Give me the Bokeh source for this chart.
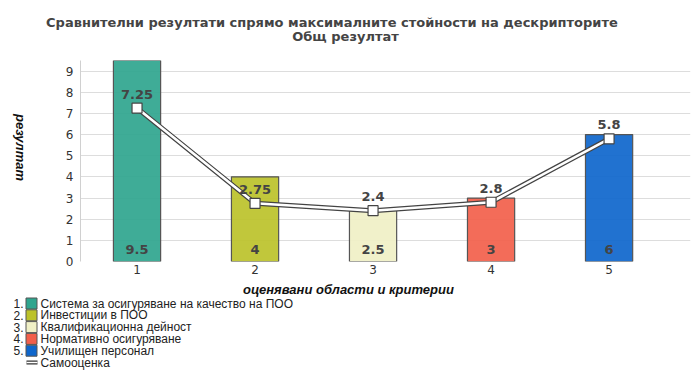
import math
from bokeh.plotting import figure
from bokeh.models import ColumnDataSource, LabelSet, Range1d, FixedTicker
from bokeh.layouts import column, row
from bokeh.core.properties import value
from bokeh.embed import file_html
from bokeh.resources import INLINE

# ---- data ----
categories = [1, 2, 3, 4, 5]
max_values = [9.5, 4, 2.5, 3, 6]
self_scores = [7.25, 2.75, 2.4, 2.8, 5.8]
bar_colors = ["#2fa58e", "#bcc22a", "#f0f0c6", "#f25f4b", "#0e66cc"]
legend_names = [
    "Система за осигуряване на качество на ПОО",
    "Инвестиции в ПОО",
    "Квалификационна дейност",
    "Нормативно осигуряване",
    "Училищен персонал",
]
line_name = "Самооценка"
title_line1 = "Сравнителни  резултати  спрямо  максималните  стойности  на  дескрипторите"
title_line2 = "Общ резултат"
y_label = "резултат"
x_label = "оценявани области и критерии"
y_ticks = list(range(0, 10))

W = 692


def no_align(f):
    try:
        f.frame_align = False
    except Exception:
        pass
    return f


def blank(w, h):
    f = figure(width=w, height=h, output_backend="svg", toolbar_location=None,
               x_range=Range1d(0, w), y_range=Range1d(h, 0), min_border=0,
               x_axis_location=None, y_axis_location=None)
    f.grid.visible = False
    f.outline_line_color = None
    return no_align(f)


# ---- title strip (page y 0..50) ----
top = blank(W, 50)
top.text(x=[345, 345], y=[22, 36], text=[title_line1, title_line2], text_align="center",
         text_baseline="middle", text_font=value("DejaVu Sans"), text_font_style="bold",
         text_font_size="13px", text_color="#444444")

# ---- y label strip (page x 0..60, y 50..278) ----
H1 = 228
YW = 60
yl = blank(YW, H1)
yl.text(x=[20], y=[147 - 50], text=[y_label], angle=-math.pi / 2, text_align="center",
        text_baseline="middle", text_font=value("Liberation Sans"),
        text_font_style="bold italic", text_font_size="13px", text_color="#111111")

# ---- main chart (page x 60..692, y 50..278) ----
p = figure(width=W - YW, height=H1, output_backend="svg", toolbar_location=None,
           x_range=Range1d(0.521, 5.69), y_range=Range1d(0, 9.5),
           min_border_left=80 - YW, min_border_right=2, min_border_top=10,
           min_border_bottom=17)
no_align(p)
p.outline_line_color = None
p.background_fill_color = "white"
p.xgrid.grid_line_color = None
p.ygrid.grid_line_color = "#dddddd"
p.ygrid.ticker = FixedTicker(ticks=y_ticks)

p.yaxis.ticker = FixedTicker(ticks=y_ticks)
p.xaxis.ticker = FixedTicker(ticks=categories)
for ax in (p.xaxis, p.yaxis):
    ax.major_tick_line_color = None
    ax.minor_tick_line_color = None
    ax.major_tick_out = 0
    ax.major_tick_in = 0
    ax.minor_tick_out = 0
    ax.major_label_text_font = "DejaVu Sans"
    ax.major_label_text_font_size = "12px"
    ax.major_label_text_color = "#333333"
p.xaxis.axis_line_color = None
p.yaxis.axis_line_color = "#d0d0d0"
p.xaxis.major_label_standoff = 3
p.yaxis.major_label_standoff = 7

src = ColumnDataSource(dict(x=categories, top=max_values, color=bar_colors,
                            lbl=[str(v) for v in max_values]))
p.vbar(x="x", top="top", width=0.4, bottom=0, fill_color="color", fill_alpha=0.92,
       line_color="#555555", line_width=1.2, source=src)

lsrc = ColumnDataSource(dict(x=categories, y=self_scores, lbl=[str(v) for v in self_scores]))
p.line(x="x", y="y", source=lsrc, line_color="#444444", line_width=5)
p.line(x="x", y="y", source=lsrc, line_color="white", line_width=2.6)
p.scatter(x="x", y="y", source=lsrc, marker="square", size=10, fill_color="white",
          line_color="#444444", line_width=1.2)

p.add_layout(LabelSet(x="x", y=0, text="lbl", source=src, y_offset=12,
                      text_align="center", text_baseline="middle",
                      text_font=value("DejaVu Sans"), text_font_style="bold",
                      text_font_size="13px", text_color="#444444"))
p.add_layout(LabelSet(x="x", y="y", text="lbl", source=lsrc, y_offset=14,
                      text_align="center", text_baseline="middle",
                      text_font=value("DejaVu Sans"), text_font_style="bold",
                      text_font_size="13px", text_color="#444444"))

# ---- x label + legend (page y 278..376) ----
H2 = 98
lg = blank(W, H2)
lg.text(x=[348], y=[11], text=[x_label], text_align="center", text_baseline="middle",
        text_font=value("Liberation Sans"), text_font_style="bold italic",
        text_font_size="13px", text_color="#111111")
n = len(legend_names)
row_y = [25 + i * 11.8 for i in range(n + 1)]
nums = [f"{i + 1}." for i in range(n)]
lg.text(x=[23] * n, y=row_y[:n], text=nums, text_align="right", text_baseline="middle",
        text_font=value("Liberation Sans"), text_font_size="12px", text_color="#222222")
lg.rect(x=[31] * n, y=row_y[:n], width=11, height=11, fill_color=bar_colors,
        line_color="#555555", line_width=1)
lg.text(x=[40] * (n + 1), y=row_y, text=legend_names + [line_name], text_align="left",
        text_baseline="middle", text_font=value("Liberation Sans"), text_font_size="12px",
        text_color="#222222")
lg.line(x=[26, 37], y=[row_y[n], row_y[n]], line_color="#333333", line_width=4)
lg.line(x=[26, 37], y=[row_y[n], row_y[n]], line_color="white", line_width=1.5)

layout = column(top, row(yl, p), lg)
open("out.html", "w").write(file_html(layout, INLINE))
